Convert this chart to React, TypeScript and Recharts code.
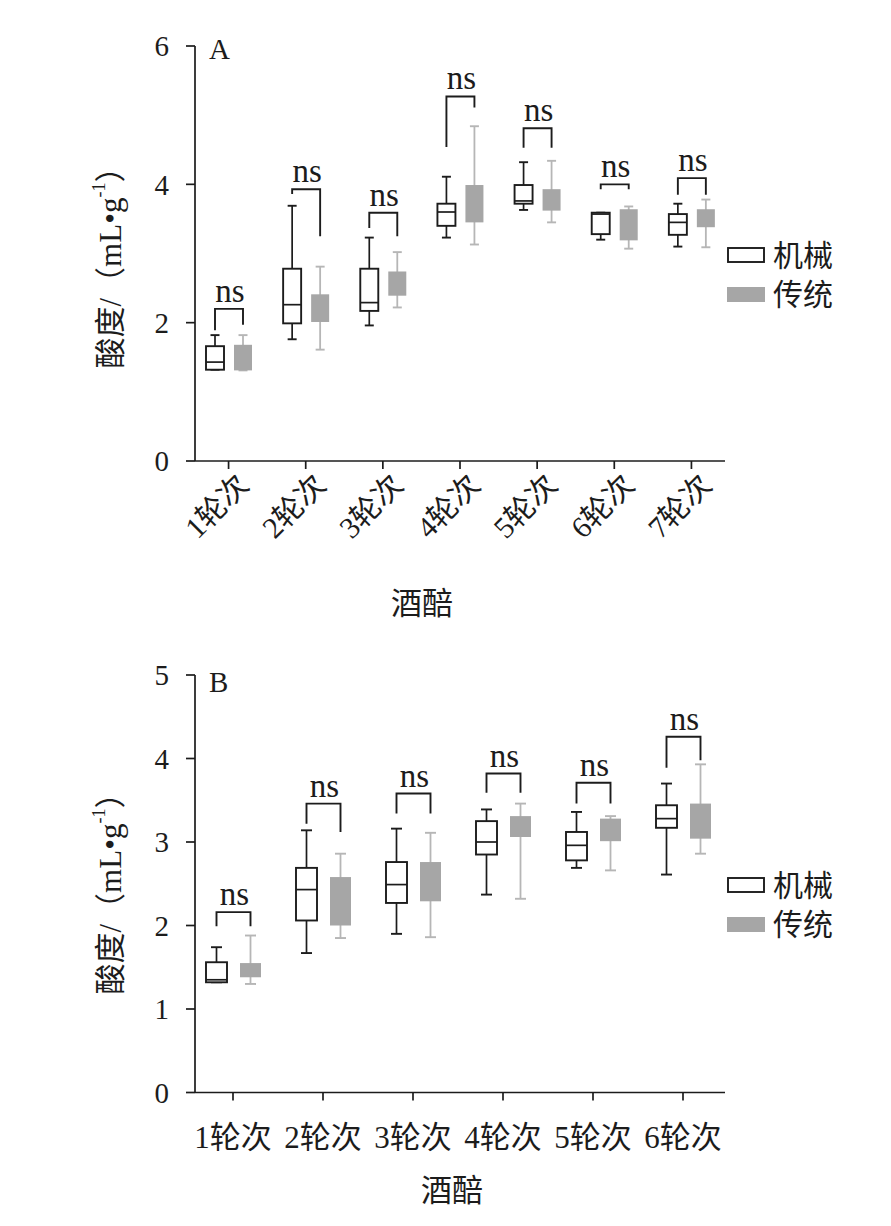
import React from 'react';
import { ComposedChart, Bar, XAxis, YAxis, Legend, Customized } from 'recharts';

const FONT = '"Liberation Serif", "Noto Sans CJK SC", serif';
const INK = '#1c1c1c';
const GREY_FILL = '#a6a6a6';
const GREY_LINE = '#b6b6b6';

const seriesNames = ['机械', '传统'];

// panel A
const catsA = ['1轮次', '2轮次', '3轮次', '4轮次', '5轮次', '6轮次', '7轮次'];
const mechMinA = [1.32, 1.76, 1.96, 3.23, 3.63, 3.2, 3.1];
const mechQ1A = [1.32, 1.99, 2.17, 3.4, 3.72, 3.28, 3.27];
const mechMedA = [1.43, 2.26, 2.29, 3.6, 3.76, 3.57, 3.45];
const mechQ3A = [1.66, 2.78, 2.78, 3.72, 3.99, 3.59, 3.57];
const mechMaxA = [1.82, 3.69, 3.23, 4.11, 4.32, 3.59, 3.72];
const tradMinA = [1.31, 1.61, 2.22, 3.13, 3.45, 3.07, 3.09];
const tradQ1A = [1.31, 2.01, 2.39, 3.45, 3.62, 3.19, 3.38];
const tradQ3A = [1.68, 2.41, 2.74, 3.99, 3.93, 3.64, 3.64];
const tradMaxA = [1.82, 2.81, 3.02, 4.84, 4.34, 3.68, 3.78];
const brTopA = [2.2, 3.93, 3.59, 5.27, 4.81, 4.0, 4.09];
const brLeftA = [1.89, 3.86, 3.37, 4.54, 4.53, 3.93, 3.85];
const brRightA = [1.97, 3.25, 3.25, 5.11, 4.53, 3.93, 3.85];
const yTicksA = [0, 2, 4, 6];

// panel B
const catsB = ['1轮次', '2轮次', '3轮次', '4轮次', '5轮次', '6轮次'];
const mechMinB = [1.32, 1.67, 1.9, 2.37, 2.69, 2.61];
const mechQ1B = [1.32, 2.06, 2.27, 2.85, 2.78, 3.17];
const mechMedB = [1.35, 2.43, 2.49, 3.0, 2.96, 3.28];
const mechQ3B = [1.56, 2.69, 2.76, 3.25, 3.12, 3.44];
const mechMaxB = [1.74, 3.14, 3.16, 3.39, 3.36, 3.7];
const tradMinB = [1.3, 1.85, 1.86, 2.32, 2.66, 2.86];
const tradQ1B = [1.38, 2.0, 2.29, 3.06, 3.01, 3.04];
const tradQ3B = [1.55, 2.58, 2.76, 3.31, 3.28, 3.46];
const tradMaxB = [1.88, 2.86, 3.11, 3.46, 3.31, 3.93];
const brTopB = [2.16, 3.46, 3.58, 3.82, 3.71, 4.26];
const brLeftB = [1.99, 3.22, 3.34, 3.59, 3.46, 3.89];
const brRightB = [1.99, 3.12, 3.34, 3.59, 3.46, 3.98];
const yTicksB = [0, 1, 2, 3, 4, 5];

const buildRows = (cats: string[], m: number[][], t: number[][], br: number[][]) =>
  cats.map((name, i) => ({
    name,
    mech: [m[0][i], m[4][i]],
    trad: [t[0][i], t[3][i]],
    mQ1: m[1][i],
    mMed: m[2][i],
    mQ3: m[3][i],
    tQ1: t[1][i],
    tQ3: t[2][i],
    bTop: br[0][i],
    bLeft: br[1][i],
    bRight: br[2][i],
  }));

const rowsA = buildRows(
  catsA,
  [mechMinA, mechQ1A, mechMedA, mechQ3A, mechMaxA],
  [tradMinA, tradQ1A, tradQ3A, tradMaxA],
  [brTopA, brLeftA, brRightA]
);
const rowsB = buildRows(
  catsB,
  [mechMinB, mechQ1B, mechMedB, mechQ3B, mechMaxB],
  [tradMinB, tradQ1B, tradQ3B, tradMaxB],
  [brTopB, brLeftB, brRightB]
);

// maps a value onto pixels using the bar's own [min, max] extent (linear y scale)
const pixelMap = (props: any, key: 'mech' | 'trad') => {
  const { y, height, payload } = props;
  const top = Math.min(y, y + height);
  const bot = Math.max(y, y + height);
  const [lo, hi] = payload[key];
  return (v: number) => top + ((bot - top) * (hi - v)) / (hi - lo);
};

const mechShape = (cap: number, pairStep: number) => (props: any) => {
  const { x, width, payload } = props;
  const py = pixelMap(props, 'mech');
  const cx = x + width / 2;
  const cx2 = cx + pairStep;
  const [lo, hi] = payload.mech;
  return (
    <g>
      <line x1={cx} x2={cx} y1={py(hi)} y2={py(lo)} stroke={INK} strokeWidth={1.7} />
      <line x1={cx - cap / 2} x2={cx + cap / 2} y1={py(hi)} y2={py(hi)} stroke={INK} strokeWidth={1.9} />
      <line x1={cx - cap / 2} x2={cx + cap / 2} y1={py(lo)} y2={py(lo)} stroke={INK} strokeWidth={1.9} />
      <rect
        x={x}
        y={py(payload.mQ3)}
        width={width}
        height={py(payload.mQ1) - py(payload.mQ3)}
        fill="#fff"
        stroke={INK}
        strokeWidth={1.9}
      />
      <line x1={x} x2={x + width} y1={py(payload.mMed)} y2={py(payload.mMed)} stroke={INK} strokeWidth={1.7} />
      <path
        d={`M${cx},${py(payload.bLeft)}V${py(payload.bTop)}H${cx2}V${py(payload.bRight)}`}
        fill="none"
        stroke={INK}
        strokeWidth={1.9}
      />
      <text
        x={(cx + cx2) / 2 + 1}
        y={py(payload.bTop) - 7}
        textAnchor="middle"
        fontSize={33}
        fontFamily={FONT}
        fill={INK}
      >
        ns
      </text>
    </g>
  );
};

const tradShape = (cap: number) => (props: any) => {
  const { x, width, payload } = props;
  const py = pixelMap(props, 'trad');
  const cx = x + width / 2;
  const [lo, hi] = payload.trad;
  return (
    <g>
      <line x1={cx} x2={cx} y1={py(hi)} y2={py(lo)} stroke={GREY_LINE} strokeWidth={1.8} />
      <line x1={cx - cap / 2} x2={cx + cap / 2} y1={py(hi)} y2={py(hi)} stroke={GREY_LINE} strokeWidth={1.9} />
      <line x1={cx - cap / 2} x2={cx + cap / 2} y1={py(lo)} y2={py(lo)} stroke={GREY_LINE} strokeWidth={1.9} />
      <rect x={x} y={py(payload.tQ3)} width={width} height={py(payload.tQ1) - py(payload.tQ3)} fill={GREY_FILL} />
    </g>
  );
};

const LegendBody = () => (
  <svg width={130} height={70}>
    <rect x={1} y={8} width={36} height={14} fill="#fff" stroke={INK} strokeWidth={1.9} />
    <text x={46} y={15} dominantBaseline="central" fontSize={30} fontFamily={FONT} fill={INK}>
      {seriesNames[0]}
    </text>
    <rect x={0} y={47} width={38} height={15} fill={GREY_FILL} />
    <text x={46} y={54} dominantBaseline="central" fontSize={30} fontFamily={FONT} fill={INK}>
      {seriesNames[1]}
    </text>
  </svg>
);

const RotTick = (p: any) => (
  <text
    transform={`translate(${p.x + 22},${p.y + 18}) rotate(-45)`}
    textAnchor="end"
    fontSize={30}
    fontFamily={FONT}
    fill={INK}
  >
    {p.payload.value}
  </text>
);

const FlatTick = (p: any) => (
  <text x={p.x} y={p.y + 37} textAnchor="middle" dominantBaseline="central" fontSize={31} fontFamily={FONT} fill={INK}>
    {p.payload.value}
  </text>
);

const YTitle = ({ x, y }: { x: number; y: number }) => (
  <text
    transform={`translate(${x},${y}) rotate(-90)`}
    textAnchor="middle"
    dominantBaseline="central"
    fontSize={31}
    fontFamily={FONT}
    fill={INK}
  >
    酸度/（mL•g<tspan dy={-11} fontSize={18}>-1</tspan>
    <tspan dy={11}>）</tspan>
  </text>
);

type PanelProps = {
  letter: string;
  rows: any[];
  top: number;
  height: number;
  margin: { top: number; right: number; bottom: number; left: number };
  yMax: number;
  yTicks: number[];
  barSize: number;
  barGap: number;
  cap: number;
  pad: { left: number; right: number };
  rotated: boolean;
  letterY: number;
  yTitleY: number;
  xTitle: { x: number; y: number };
  legendTop: number;
};

const Panel = (p: PanelProps) => (
  <div style={{ position: 'absolute', left: 0, top: p.top }}>
    <ComposedChart width={891} height={p.height} data={p.rows} margin={p.margin} barGap={p.barGap}>
      <XAxis
        dataKey="name"
        height={60}
        padding={p.pad}
        axisLine={{ stroke: INK, strokeWidth: 1.7 }}
        tickLine={{ stroke: INK, strokeWidth: 1.7 }}
        tickSize={8}
        tickMargin={0}
        interval={0}
        tick={p.rotated ? <RotTick /> : <FlatTick />}
        label={{
          content: () => (
            <text
              x={p.xTitle.x}
              y={p.xTitle.y}
              textAnchor="middle"
              dominantBaseline="central"
              fontSize={31}
              fontFamily={FONT}
              fill={INK}
            >
              酒醅
            </text>
          ),
        }}
      />
      <YAxis
        width={195}
        domain={[0, p.yMax]}
        ticks={p.yTicks}
        allowDataOverflow
        axisLine={{ stroke: INK, strokeWidth: 1.7 }}
        tickLine={{ stroke: INK, strokeWidth: 1.7 }}
        tickSize={9}
        tickMargin={17}
        tick={{ fontSize: 29, fontFamily: FONT, fill: INK }}
      />
      <Bar
        dataKey="mech"
        name={seriesNames[0]}
        barSize={p.barSize}
        isAnimationActive={false}
        shape={mechShape(p.cap, p.barSize + p.barGap)}
      />
      <Bar
        dataKey="trad"
        name={seriesNames[1]}
        barSize={p.barSize}
        isAnimationActive={false}
        shape={tradShape(p.cap)}
      />
      <Legend
        layout="vertical"
        align="center"
        verticalAlign="middle"
        wrapperStyle={{ position: 'absolute', left: 727, top: p.legendTop, width: 130 }}
        content={() => <LegendBody />}
      />
      <Customized
        component={() => (
          <g>
            <text x={209} y={p.letterY} fontSize={29} fontFamily={FONT} fill={INK}>
              {p.letter}
            </text>
            <YTitle x={110} y={p.yTitleY} />
          </g>
        )}
      />
    </ComposedChart>
  </div>
);

const App = () => (
  <div>
    <Panel
      letter="A"
      rows={rowsA}
      top={0}
      height={620}
      margin={{ top: 46, right: 166, bottom: 99, left: 0 }}
      yMax={6}
      yTicks={yTicksA}
      barSize={18}
      barGap={10}
      cap={9}
      pad={{ left: -5, right: -5 }}
      rotated
      letterY={59}
      yTitleY={260}
      xTitle={{ x: 422, y: 603 }}
      legendTop={240}
    />
    <Panel
      letter="B"
      rows={rowsB}
      top={620}
      height={606}
      margin={{ top: 55, right: 166, bottom: 73.5, left: 0 }}
      yMax={5}
      yTicks={yTicksB}
      barSize={21}
      barGap={13}
      cap={11}
      pad={{ left: -7, right: -3 }}
      rotated={false}
      letterY={72}
      yTitleY={266}
      xTitle={{ x: 452, y: 570 }}
      legendTop={250}
    />
  </div>
);

export default App;
